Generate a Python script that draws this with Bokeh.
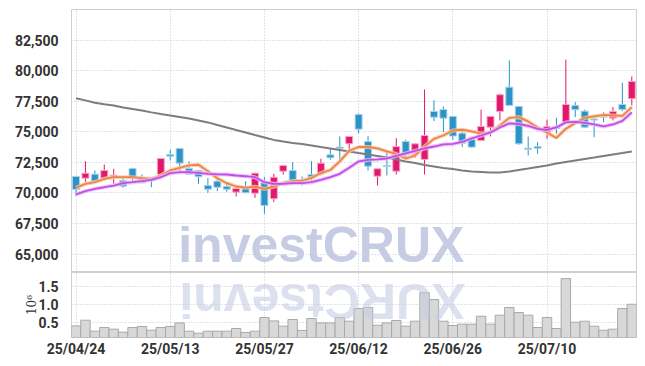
from bokeh.plotting import figure
from bokeh.layouts import column
from bokeh.models import Range1d, FixedTicker, NumeralTickFormatter, Label, ColumnDataSource
from bokeh.embed import file_html
from bokeh.resources import INLINE

# ---------------- data ----------------
dates = ["25/04/24", "25/04/25", "25/04/28", "25/04/29", "25/04/30", "25/05/02", "25/05/07", "25/05/08",
         "25/05/09", "25/05/12", "25/05/13", "25/05/14", "25/05/15", "25/05/16", "25/05/19", "25/05/20",
         "25/05/21", "25/05/22", "25/05/23", "25/05/26", "25/05/27", "25/05/28", "25/05/29", "25/05/30",
         "25/06/02", "25/06/04", "25/06/05", "25/06/09", "25/06/10", "25/06/11", "25/06/12", "25/06/13",
         "25/06/16", "25/06/17", "25/06/18", "25/06/19", "25/06/20", "25/06/23", "25/06/24", "25/06/25",
         "25/06/26", "25/06/27", "25/06/30", "25/07/01", "25/07/02", "25/07/03", "25/07/04", "25/07/07",
         "25/07/08", "25/07/09", "25/07/10", "25/07/11", "25/07/14", "25/07/15", "25/07/16", "25/07/17",
         "25/07/18", "25/07/21", "25/07/22", "25/07/23"]

opens = [71350, 71210, 71540, 71210, 71270, 71020, 72000, 71270, 71240, 71490,
         73150, 73640, 72000, 71840, 70610, 70965, 70530, 70070, 70470, 69980,
         70880, 69530, 71780, 71840, 70965, 71510, 71570, 73120, 73750, 74020,
         76420, 74210, 71370, 72250, 71780, 74210, 73260, 72740, 76670, 76830,
         76260, 74890, 74380, 74290, 75380, 76670, 78650, 77080, 73660, 73800,
         74970, 75440, 75790, 77160, 76690, 76040, 76280, 76120, 77240, 77710]
highs = [71400, 72600, 71840, 72330, 71980, 71210, 72060, 71510, 71300, 72850,
         73530, 73640, 72600, 71900, 71210, 71290, 70800, 70590, 70965, 71650,
         71290, 71570, 72300, 72520, 71350, 72600, 72800, 73620, 74620, 74650,
         76500, 74650, 72000, 73480, 74480, 74350, 74050, 78470, 77570, 77080,
         76300, 75110, 74480, 76810, 76300, 78110, 80840, 77080, 74620, 74160,
         75990, 76150, 80900, 77430, 76810, 76340, 76610, 77020, 79010, 79530]
lows = [69750, 70880, 70800, 71020, 70750, 70430, 70830, 70800, 70470, 71450,
        72660, 71570, 71540, 70750, 70020, 70150, 70100, 69710, 70000, 69600,
        68300, 69250, 71510, 70700, 70610, 70965, 71450, 72720, 72660, 73340,
        74890, 71840, 70610, 71430, 71510, 72720, 72880, 71510, 75870, 74970,
        74350, 73750, 73700, 74290, 74620, 75930, 77160, 73950, 73070, 73210,
        74430, 74840, 75790, 76200, 75330, 74560, 75790, 75930, 76690, 77160]
closes = [70300, 71620, 70965, 71840, 71460, 70560, 71210, 70830, 71050, 72820,
          73010, 72440, 71540, 71330, 70310, 70470, 70310, 70370, 70020, 71620,
          68980, 71290, 72250, 71020, 70800, 71290, 72440, 72880, 73660, 74620,
          75220, 72190, 71980, 72170, 73800, 73150, 74020, 74700, 76200, 76120,
          74650, 74070, 73750, 75440, 76260, 78030, 77160, 74020, 73560, 73660,
          75440, 75280, 77240, 76810, 75380, 75960, 76200, 76670, 76830, 79120]
volume_m = [0.405, 0.564, 0.257, 0.360, 0.313, 0.229, 0.360, 0.388, 0.285, 0.360,
            0.388, 0.489, 0.257, 0.201, 0.257, 0.257, 0.257, 0.332, 0.221, 0.257,
            0.640, 0.545, 0.397, 0.584, 0.277, 0.612, 0.489, 0.489, 0.640, 0.536,
            0.891, 0.919, 0.425, 0.489, 0.556, 0.397, 0.536, 1.338, 1.142, 0.536,
            0.416, 0.453, 0.453, 0.676, 0.453, 0.704, 0.919, 0.779, 0.704, 0.360,
            0.640, 0.332, 1.729, 0.508, 0.536, 0.397, 0.285, 0.313, 0.891, 1.011]
ma_short = [70430, 70750, 70880, 71160, 71290, 71290, 71290, 71210, 71160, 71430,
            71840, 72060, 72250, 72310, 71780, 71200, 70800, 70530, 70430, 70510,
            70340, 70510, 70820, 70970, 71000, 71230, 71630, 71880, 72580, 73450,
            73760, 73760, 73640, 73400, 73190, 72820, 73070, 73800, 74420, 74700,
            75110, 75170, 75030, 74870, 74950, 75520, 76140, 76200, 75850, 75360,
            74950, 74500, 75250, 75710, 76140, 76260, 76380, 76340, 76300, 77020]
ma_mid = [69880, 70150, 70340, 70470, 70610, 70800, 70880, 70970, 71080, 71290,
          71620, 71700, 71700, 71650, 71570, 71530, 71510, 71430, 71370, 71290,
          70880, 70750, 70750, 70800, 70800, 70880, 71080, 71290, 71570, 72060,
          72580, 72700, 72740, 72820, 73030, 73230, 73440, 73640, 73800, 73970,
          74010, 74170, 74460, 74700, 74950, 75360, 75690, 75640, 75480, 75240,
          75150, 75360, 75770, 75820, 75730, 75600, 75440, 75600, 75890, 76590]
ma_long = [77750, 77570, 77380, 77260, 77160, 76990, 76870, 76750, 76590, 76460,
           76340, 76220, 76090, 75930, 75770, 75560, 75360, 75150, 74950, 74740,
           74540, 74340, 74210, 74090, 74010, 73890, 73760, 73640, 73520, 73400,
           73270, 73150, 73030, 72900, 72740, 72580, 72450, 72290, 72170, 72050,
           71960, 71840, 71760, 71720, 71680, 71680, 71760, 71880, 72000, 72130,
           72250, 72410, 72540, 72660, 72780, 72900, 73030, 73150, 73270, 73400]
price_ticks = [65000, 67500, 70000, 72500, 75000, 77500, 80000, 82500]
volume_ticks = [0.5, 1.0, 1.5]
label_every = 10
watermark = "investCRUX"

# ---------------- styling ----------------
UP_FILL, UP_LINE = "#e2186c", "#f3a9c7"
DN_FILL, DN_LINE = "#2b93c6", "#a6d2ea"
GRID = "#c3c8da"
OUTLINE = "#cfcfcf"
LABEL_FONT = "Roboto"
WM_COLOR = "#c6cce3"

idx = list(range(len(dates)))
up = [c >= o for o, c in zip(opens, closes)]
src = ColumnDataSource(dict(
    x=idx, high=highs, low=lows,
    top=[max(o, c) for o, c in zip(opens, closes)],
    bottom=[min(o, c) for o, c in zip(opens, closes)],
    fill=[UP_FILL if u else DN_FILL for u in up],
    line=[UP_LINE if u else DN_LINE for u in up],
))

x_range = Range1d(-0.48, 59.5)
tick_pos = idx[::label_every]
overrides = {i: dates[i] for i in tick_pos}
price_range = Range1d(63500, 85000)
vol_range = Range1d(0.08, 1.90)

def style(fig):
    fig.outline_line_color = OUTLINE
    fig.outline_line_width = 1
    fig.background_fill_color = "white"
    fig.border_fill_color = "white"
    fig.xgrid.ticker = FixedTicker(ticks=tick_pos)
    fig.xgrid.grid_line_color = GRID
    fig.xgrid.grid_line_dash = "1 2"
    fig.ygrid.grid_line_color = GRID
    fig.ygrid.grid_line_dash = "1 2"
    for ax in fig.yaxis:
        ax.axis_line_color = None
        ax.major_tick_line_color = None
        ax.minor_tick_line_color = None
        ax.major_label_standoff = 7
        ax.major_label_text_font = LABEL_FONT
        ax.major_label_text_font_style = "bold"
        ax.major_label_text_font_size = "14px"
        ax.major_label_text_color = "#333333"

# ---------------- price panel ----------------
p = figure(frame_width=565, frame_height=263, x_range=x_range, y_range=price_range,
           output_backend="svg", toolbar_location=None,
           min_border_left=71, min_border_right=1, min_border_top=9, min_border_bottom=0)
style(p)
p.xaxis.visible = False
p.yaxis.ticker = FixedTicker(ticks=price_ticks)
p.yaxis.formatter = NumeralTickFormatter(format="0,0")

p.add_layout(Label(x=10.85, y=price_range.start, text=watermark, text_font="Liberation Sans",
                   text_font_style="bold", text_font_size="50px", text_color=WM_COLOR,
                   text_alpha=1.0, text_baseline="bottom", text_align="left"))

p.segment(x0="x", y0="high", x1="x", y1="low", source=src, line_color="fill", line_width=1)
p.vbar(x="x", top="top", bottom="bottom", width=0.74, source=src,
       fill_color="fill", line_color="line", line_width=1)

p.line(idx, ma_long, line_color="#7d7d7d", line_width=2)
p.line(idx, ma_short, line_color="#f8c9aa", line_width=4, line_alpha=0.8)
p.line(idx, ma_short, line_color="#ee8448", line_width=1.8)
p.line(idx, ma_mid, line_color="#ebbaf8", line_width=4, line_alpha=0.8)
p.line(idx, ma_mid, line_color="#c14fe6", line_width=1.8)

# ---------------- volume panel ----------------
v = figure(frame_width=565, frame_height=65, x_range=x_range, y_range=vol_range,
           output_backend="svg", toolbar_location=None,
           min_border_left=71, min_border_right=1, min_border_top=0, min_border_bottom=0)
style(v)
v.vbar(x=idx, top=volume_m, bottom=0, width=1.0, fill_color="#d8d8d8", line_color="#a9a9a9",
       line_width=1)
v.add_layout(Label(x=41.35, y=vol_range.end, text=watermark[::-1], text_font="Liberation Sans",
                   text_font_style="bold", text_font_size="50px", text_color=WM_COLOR,
                   text_alpha=0.6, angle=3.14159265, text_baseline="bottom",
                   text_align="left"))
v.yaxis.ticker = FixedTicker(ticks=volume_ticks)
v.yaxis.formatter = NumeralTickFormatter(format="0.0")
v.yaxis.axis_label = "10⁶"
v.yaxis.axis_label_standoff = -4
v.yaxis.axis_label_text_font = "DejaVu Serif"
v.yaxis.axis_label_text_font_style = "normal"
v.yaxis.axis_label_text_font_size = "12px"
v.yaxis.axis_label_text_color = "#333333"
v.xaxis.ticker = FixedTicker(ticks=tick_pos)
v.xaxis.major_label_overrides = overrides
v.xaxis.axis_line_color = None
v.xaxis.major_tick_line_color = None
v.xaxis.minor_tick_line_color = None
v.xaxis.major_label_standoff = -3
v.xaxis.major_label_text_font = LABEL_FONT
v.xaxis.major_label_text_font_style = "bold"
v.xaxis.major_label_text_font_size = "14px"
v.xaxis.major_label_text_color = "#333333"

layout = column(p, v, spacing=0)
open("out.html", "w").write(file_html(layout, INLINE))
